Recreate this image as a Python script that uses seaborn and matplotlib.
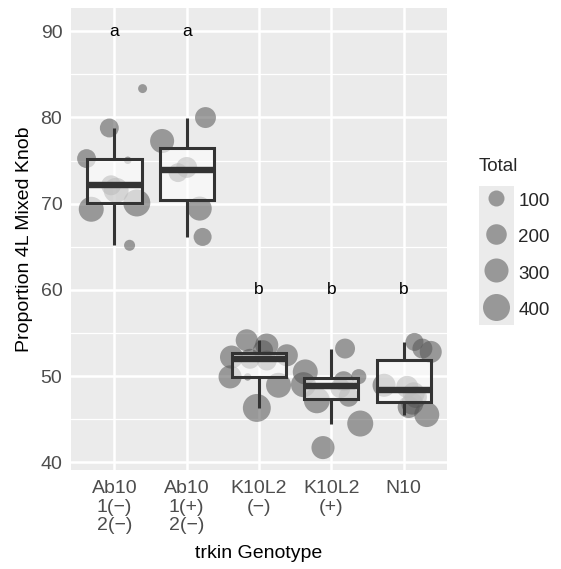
import numpy as np
import pandas as pd
import matplotlib
matplotlib.use("Agg")
import matplotlib.pyplot as plt
from matplotlib.ticker import MultipleLocator, FixedLocator
from matplotlib.patches import Rectangle
import seaborn as sns

# ---------------- data ----------------
categories = ["Ab10\n1(\u2212)\n2(\u2212)", "Ab10\n1(+)\n2(\u2212)",
              "K10L2\n(\u2212)", "K10L2\n(+)", "N10"]

prop_ab10_m = [83.35, 78.78, 75.23, 75.03, 72.13, 71.55, 69.35, 70.08, 65.17]
jit_ab10_m = [0.39, -0.07, -0.385, 0.185, -0.046, 0.024, -0.32, 0.31, 0.21]
tot_ab10_m = [13, 160, 160, 5, 185, 330, 330, 400, 30]

prop_ab10_p = [79.99, 77.27, 74.2, 73.6, 69.43, 66.14]
jit_ab10_p = [0.26, -0.34, 0.0, -0.12, 0.18, 0.22]
tot_ab10_p = [210, 300, 210, 160, 300, 140]

prop_k10_m = [54.15, 53.6, 53.0, 52.41, 52.2, 52.0, 51.8, 49.9, 49.9, 48.93, 46.3]
jit_k10_m = [-0.17, 0.107, 0.056, 0.385, -0.38, -0.125, 0.107, -0.40, -0.157, 0.27, -0.03]
tot_k10_m = [240, 270, 185, 240, 270, 185, 185, 270, 5, 330, 435]

prop_k10_p = [53.19, 50.48, 49.93, 49.4, 49.0, 48.6, 47.6, 47.19, 44.49, 41.7]
jit_k10_p = [0.19, -0.36, 0.38, 0.17, -0.385, 0.125, 0.24, -0.2, 0.40, -0.115]
tot_k10_p = [185, 330, 85, 185, 330, 185, 185, 365, 365, 270]

prop_n10 = [53.96, 53.19, 52.8, 48.93, 48.74, 48.0, 47.57, 46.8, 46.41, 45.53]
jit_n10 = [0.15, 0.26, 0.375, -0.27, 0.05, 0.14, 0.17, 0.12, 0.07, 0.32]
tot_n10 = [140, 185, 240, 270, 240, 240, 240, 240, 240, 330]

sig_letters = ["a", "a", "b", "b", "b"]
sig_y = [90, 90, 60, 60, 60]

legend_totals = [100, 200, 300, 400]

# ---------------- build table ----------------
groups = [
    (prop_ab10_m, jit_ab10_m, tot_ab10_m),
    (prop_ab10_p, jit_ab10_p, tot_ab10_p),
    (prop_k10_m, jit_k10_m, tot_k10_m),
    (prop_k10_p, jit_k10_p, tot_k10_p),
    (prop_n10, jit_n10, tot_n10),
]
rows = []
for i, (p, j, t) in enumerate(groups):
    for pv, jv, tv in zip(p, j, t):
        rows.append({"Genotype": categories[i], "xpos": i + jv,
                     "Proportion": pv, "Total": tv})
df = pd.DataFrame(rows)

DPI = 100


def marker_area(v):
    d_px = 5 + 1.1 * np.sqrt(v)          # ggplot-like sqrt size scale
    d_pt = d_px * 72.0 / DPI
    return d_pt ** 2


size_map = {v: marker_area(v) for v in sorted(set(df["Total"]) | set(legend_totals))}

# ---------------- style ----------------
sns.set_style("darkgrid")
plt.rcParams["font.family"] = ["Liberation Sans", "DejaVu Sans"]

fig = plt.figure(figsize=(5.61, 5.69), dpi=DPI)
ax = fig.add_axes([71 / 561, 1 - 470 / 569, (447 - 71) / 561, (470 - 8) / 569])

ax.set_facecolor("#EBEBEB")
for s in ax.spines.values():
    s.set_visible(False)

pt_color = "#555555"
pt_alpha = 0.55

sns.scatterplot(data=df, x="xpos", y="Proportion", size="Total",
                sizes=size_map, color=pt_color, alpha=pt_alpha,
                linewidth=0, legend=False, ax=ax, zorder=2)

sns.boxplot(data=df, x="Genotype", y="Proportion", order=categories,
            width=0.75, showfliers=False, showcaps=False, ax=ax,
            boxprops=dict(facecolor=(1, 1, 1, 0.6), edgecolor="#333333",
                          linewidth=2.2, zorder=3),
            whiskerprops=dict(color="#333333", linewidth=2.2, zorder=3),
            medianprops=dict(color="#333333", linewidth=4.6, zorder=4))

for i, (lab, yv) in enumerate(zip(sig_letters, sig_y)):
    ax.text(i, yv, lab, ha="center", va="center", fontsize=12.5, color="black",
            zorder=5)

ax.set_xlim(-0.6, 4.6)
ax.set_ylim(39.1, 92.7)
ax.xaxis.set_major_locator(FixedLocator(range(len(categories))))
ax.set_xticklabels(categories, linespacing=1.12)
ax.yaxis.set_major_locator(MultipleLocator(10))
ax.yaxis.set_minor_locator(MultipleLocator(5))

ax.grid(which="major", color="white", linewidth=1.8)
ax.grid(which="minor", axis="y", color="white", linewidth=0.9)
ax.grid(which="minor", axis="x", visible=False)
ax.set_axisbelow(True)

ax.tick_params(axis="both", which="major", length=3.3, width=1.0,
               color="#333333", labelcolor="#4D4D4D", labelsize=14, pad=3)
ax.tick_params(axis="x", which="major", pad=4)
ax.tick_params(axis="both", which="minor", length=0)

ax.set_xlabel("trkin Genotype", fontsize=14, color="black", labelpad=8)
ax.set_ylabel("Proportion 4L Mixed Knob", fontsize=14, color="black", labelpad=5)

# ---------------- legend ----------------
fig.patches.append(Rectangle((479 / 561, 1 - 325 / 569), 35 / 561, 139 / 569,
                             transform=fig.transFigure, facecolor="#EBEBEB",
                             edgecolor="none", zorder=0))
handles = [ax.scatter([], [], s=size_map[v], color=pt_color, alpha=pt_alpha,
                      linewidth=0) for v in legend_totals]
leg = fig.legend(handles, [str(v) for v in legend_totals], title="Total",
                 loc="upper left", bbox_to_anchor=(479 / 561, 1 - 158 / 569),
                 frameon=False, fontsize=13.5, title_fontsize=13.5,
                 handlelength=1.85, handleheight=1.5, labelspacing=0.72,
                 handletextpad=0.25, borderpad=0, borderaxespad=0,
                 alignment="left", scatterpoints=1)

fig.savefig("out.png", dpi=DPI)
